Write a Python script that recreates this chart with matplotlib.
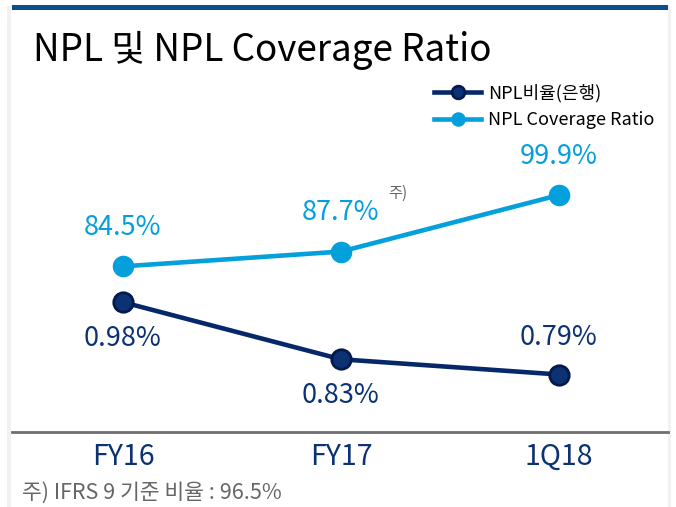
import matplotlib.pyplot as plt
from matplotlib.patches import Rectangle

plt.rcParams['font.family'] = ['Noto Sans CJK KR', 'DejaVu Sans']

# 데이터
periods = ['FY16', 'FY17', '1Q18']
npl_ratio = [0.98, 0.83, 0.79]          # NPL비율(은행), %
coverage = [84.5, 87.7, 99.9]           # NPL Coverage Ratio, %
npl_labels = ['0.98%', '0.83%', '0.79%']
cov_labels = ['84.5%', '87.7%', '99.9%']
npl_offsets = [-26, -26, 27]            # 라벨 위치 (pt)

navy = '#0b3272'
navy_dark = '#051a4c'
sky = '#04a0dc'
gray = '#666666'

W, H = 676, 507
fig = plt.figure(figsize=(W / 100, H / 100), dpi=100)
fig.patch.set_facecolor('white')

# 패널 그림자 + 상단 바
fig.patches.append(Rectangle((7 / W, 0), 664 / W, 1 - 6 / H, transform=fig.transFigure,
                             facecolor='#f1f1f1', edgecolor='none', zorder=-3))
fig.patches.append(Rectangle((11 / W, 0), 657 / W, 1 - 8 / H, transform=fig.transFigure,
                             facecolor='white', edgecolor='none', zorder=-2))
fig.patches.append(Rectangle((12 / W, 1 - 10 / H), 656 / W, 5 / H, transform=fig.transFigure,
                             facecolor='#0b4f8a', edgecolor='none', zorder=-1))

left, right = 12 / W, 668 / W
bottom, top = 1 - 432 / H, 1 - 130 / H
ax = fig.add_axes([left, bottom, right - left, top - bottom])
ax2 = ax.twinx()

x = list(range(len(periods)))
for a in (ax, ax2):
    a.set_xlim(-0.509, 2.5)
    a.patch.set_visible(False)
    for s in ['top', 'right', 'left']:
        a.spines[s].set_visible(False)
    a.set_yticks([])

ax.spines['bottom'].set_color('#6e6e6e')
ax.spines['bottom'].set_linewidth(2)
ax2.spines['bottom'].set_visible(False)

ax.set_ylim(48.75, 113.94)
ax2.set_ylim(0.6389, 1.4326)

l1, = ax2.plot(x, npl_ratio, color='#06286a', lw=3.3, marker='o', ms=14,
               markerfacecolor=navy, markeredgecolor=navy_dark, markeredgewidth=2,
               label='NPL비율(은행)', zorder=3)
l2, = ax.plot(x, coverage, color=sky, lw=3.3, marker='o', ms=14.5,
              markerfacecolor=sky, markeredgecolor=sky, label='NPL Coverage Ratio', zorder=3)

for xi, v, t in zip(x, coverage, cov_labels):
    ax.annotate(t, (xi, v), xytext=(0, 28), textcoords='offset points',
                ha='center', va='center', fontsize=19.5, color=sky)
for xi, v, t, o in zip(x, npl_ratio, npl_labels, npl_offsets):
    ax2.annotate(t, (xi, v), xytext=(0, o), textcoords='offset points',
                 ha='center', va='center', fontsize=19.5, color=navy)

ax.annotate('주)', (1, coverage[1]), xytext=(41, 42), textcoords='offset points',
            ha='center', va='center', fontsize=11, color=gray)

ax.set_xticks(x)
ax.set_xticklabels(periods, fontsize=20.5, color=navy, fontweight='medium')
ax.tick_params(axis='x', length=0, pad=7)

fig.text(33 / W, 1 - 50 / H, 'NPL 및 NPL Coverage Ratio', fontsize=26.5,
         color='black', ha='left', va='center', fontweight='medium')
fig.text(22 / W, 1 - 493 / H, '주) IFRS 9 기준 비율 : 96.5%', fontsize=15.5,
         color=gray, ha='left', va='center')

fig.legend(handles=[l1, l2], loc='upper left', bbox_to_anchor=(418 / W, 1 - 68 / H),
           frameon=False, fontsize=13, handlelength=2.6, handletextpad=0.4,
           labelspacing=0.45, markerscale=0.65)

fig.savefig('out.png', dpi=100)
